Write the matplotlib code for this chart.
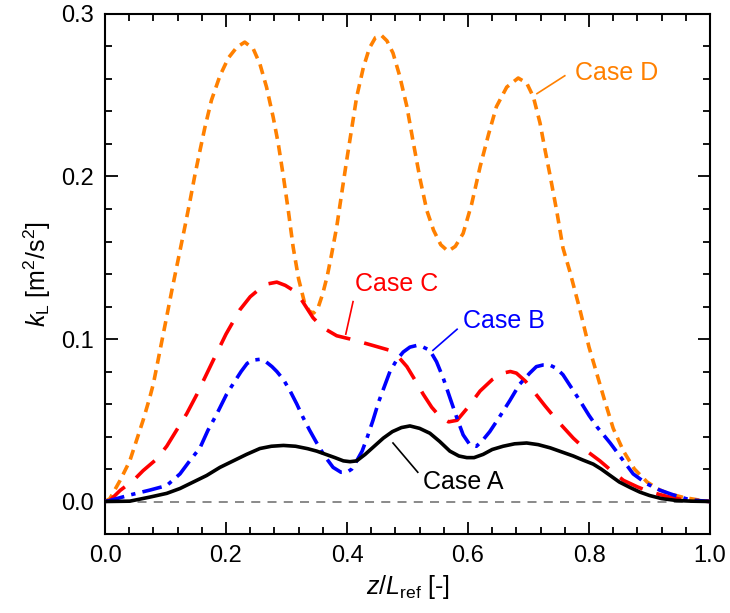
import numpy as np
import matplotlib
matplotlib.use("Agg")
import matplotlib.pyplot as plt
from matplotlib.ticker import MultipleLocator, FormatStrFormatter

plt.rcParams['font.family'] = ['Liberation Sans', 'DejaVu Sans']
plt.rcParams['mathtext.fontset'] = 'custom'
plt.rcParams['mathtext.rm'] = 'Liberation Sans'
plt.rcParams['mathtext.it'] = 'Liberation Sans:italic'
plt.rcParams['mathtext.bf'] = 'Liberation Sans:bold'

# Case D
D_x = [0.0, 0.008, 0.025, 0.041, 0.052, 0.063, 0.074, 0.08, 0.1, 0.11, 0.121, 0.132, 0.1405,
       0.149, 0.157, 0.165, 0.176, 0.19, 0.204, 0.218, 0.231, 0.245, 0.256, 0.267, 0.278, 0.2865,
       0.295, 0.303, 0.311, 0.32, 0.33, 0.338, 0.345, 0.352, 0.36, 0.3675, 0.3747, 0.383, 0.391,
       0.3994, 0.408, 0.416, 0.427, 0.437, 0.447, 0.457, 0.466, 0.476, 0.487, 0.499, 0.510, 0.521,
       0.532, 0.543, 0.555, 0.567, 0.579, 0.592, 0.606, 0.620, 0.634, 0.647, 0.664, 0.683, 0.697,
       0.708, 0.719, 0.727, 0.736, 0.747, 0.757, 0.768, 0.785, 0.80, 0.815, 0.826, 0.84, 0.857,
       0.875, 0.896, 0.915, 0.93, 0.956, 0.98, 1.0]
D_y = [0.0, 0.0017, 0.013, 0.025, 0.0375, 0.05, 0.064, 0.0725, 0.11, 0.129, 0.149, 0.169, 0.185,
       0.2017, 0.216, 0.230, 0.247, 0.262, 0.273, 0.2796, 0.2827, 0.2786, 0.2693, 0.255, 0.2365,
       0.220, 0.1996, 0.179, 0.1565, 0.137, 0.122, 0.117, 0.116, 0.119, 0.128, 0.139, 0.1524, 0.169,
       0.189, 0.2098, 0.230, 0.249, 0.267, 0.279, 0.2855, 0.2868, 0.2835, 0.276, 0.262, 0.243,
       0.220, 0.198, 0.179, 0.167, 0.158, 0.154, 0.157, 0.165, 0.183, 0.206, 0.226, 0.243, 0.255,
       0.2606, 0.2575, 0.249, 0.233, 0.217, 0.2, 0.178, 0.156, 0.142, 0.118, 0.095, 0.076, 0.062,
       0.045, 0.031, 0.02, 0.012, 0.0075, 0.005, 0.0025, 0.001, 0.0]

# Case C
C_x = [0.0, 0.008, 0.025, 0.047, 0.063, 0.085, 0.102, 0.118, 0.135, 0.152, 0.157, 0.179, 0.2,
       0.223, 0.24, 0.256, 0.27, 0.284, 0.298, 0.311, 0.325, 0.344, 0.36, 0.383, 0.405, 0.443,
       0.471, 0.485, 0.499, 0.512, 0.526, 0.54, 0.554, 0.568, 0.582, 0.60, 0.62, 0.64, 0.658,
       0.67, 0.68, 0.695, 0.708, 0.727, 0.747, 0.774, 0.80, 0.818, 0.84, 0.857, 0.88, 0.9, 0.93,
       0.956, 1.0]
C_y = [0.0, 0.0006, 0.0068, 0.013, 0.019, 0.026, 0.034, 0.0437, 0.054, 0.066, 0.070, 0.087, 0.103,
       0.118, 0.126, 0.131, 0.134, 0.135, 0.133, 0.130, 0.124, 0.113, 0.107, 0.102, 0.100, 0.096,
       0.093, 0.089, 0.083, 0.075, 0.066, 0.058, 0.052, 0.049, 0.050, 0.058, 0.068, 0.075, 0.079,
       0.080, 0.079, 0.074, 0.068, 0.059, 0.050, 0.039, 0.030, 0.025, 0.018, 0.013, 0.009, 0.006,
       0.003, 0.001, 0.0]

# Case B
B_x = [0.0, 0.008, 0.041, 0.074, 0.102, 0.124, 0.14, 0.157, 0.170, 0.185, 0.201, 0.212, 0.225,
       0.235, 0.245, 0.256, 0.266, 0.276, 0.284, 0.295, 0.306, 0.317, 0.327, 0.338, 0.35, 0.363,
       0.377, 0.39, 0.4, 0.408, 0.416, 0.425, 0.433, 0.443, 0.452, 0.462, 0.471, 0.482, 0.493,
       0.504, 0.515, 0.526, 0.537, 0.548, 0.559, 0.57, 0.582, 0.592, 0.603, 0.614, 0.625, 0.636,
       0.652, 0.669, 0.685, 0.702, 0.713, 0.724, 0.735, 0.746, 0.757, 0.771, 0.785, 0.80, 0.813,
       0.835, 0.855, 0.873, 0.895, 0.917, 0.94, 0.967, 1.0]
B_y = [0.0, 0.0006, 0.004, 0.007, 0.0098, 0.017, 0.025, 0.033, 0.0437, 0.054, 0.066, 0.0725,
       0.080, 0.085, 0.087, 0.0875, 0.086, 0.083, 0.080, 0.075, 0.068, 0.060, 0.052, 0.044, 0.036,
       0.028, 0.021, 0.018, 0.018, 0.020, 0.025, 0.031, 0.039, 0.05, 0.061, 0.071, 0.080, 0.087,
       0.092, 0.095, 0.096, 0.095, 0.093, 0.086, 0.076, 0.064, 0.051, 0.041, 0.035, 0.034, 0.038,
       0.043, 0.052, 0.062, 0.072, 0.079, 0.083, 0.084, 0.084, 0.082, 0.078, 0.070, 0.062, 0.053,
       0.046, 0.036, 0.026, 0.017, 0.011, 0.007, 0.004, 0.001, 0.0]

# Case A
A_x = [0.0, 0.041, 0.074, 0.102, 0.124, 0.146, 0.168, 0.19, 0.212, 0.234, 0.256, 0.275, 0.295,
       0.315, 0.335, 0.35, 0.365, 0.38, 0.394, 0.405, 0.416, 0.43, 0.445, 0.46, 0.475, 0.49,
       0.504, 0.52, 0.537, 0.553, 0.57, 0.585, 0.598, 0.61, 0.625, 0.64, 0.658, 0.677, 0.697,
       0.716, 0.736, 0.755, 0.774, 0.79, 0.807, 0.82, 0.835, 0.85, 0.868, 0.884, 0.9, 0.92, 0.945,
       0.97, 1.0]
A_y = [0.0, 0.0002, 0.0027, 0.005, 0.008, 0.012, 0.016, 0.021, 0.025, 0.029, 0.0326, 0.034,
       0.0345, 0.034, 0.0325, 0.031, 0.029, 0.027, 0.025, 0.0245, 0.025, 0.029, 0.034, 0.039,
       0.043, 0.0455, 0.0465, 0.045, 0.042, 0.037, 0.031, 0.028, 0.027, 0.027, 0.029, 0.032,
       0.034, 0.0355, 0.036, 0.035, 0.033, 0.0305, 0.028, 0.0255, 0.023, 0.02, 0.016, 0.012,
       0.0086, 0.0058, 0.0037, 0.0018, 0.0006, 0.0002, 0.0]

fig = plt.figure(figsize=(7.3, 6.13), dpi=100)
ax = fig.add_axes([105/730, 1-534/613, 605/730, 520/613])

lw = 2.6
ax.axhline(0, color='#808080', lw=1.3, ls=(0, (5, 4)), zorder=1)
ax.plot(D_x, D_y, color='#FF8000', lw=lw, ls=(0, (2.8, 1.8)), zorder=2)
ax.plot(C_x, C_y, color='#FF0000', lw=lw, ls=(0, (7, 4)), zorder=3)
ax.plot(B_x, B_y, color='#0000FF', lw=lw, ls=(0, (5.5, 2, 1.2, 2)), zorder=4)
ax.plot(A_x, A_y, color='black', lw=lw, ls='-', zorder=5)

fs_ann = 18
ax.text(0.777, 0.264, 'Case D', color='#FF8000', fontsize=fs_ann, va='center', ha='left')
ax.plot([0.714, 0.76], [0.251, 0.262], color='#FF8000', lw=1.2)
ax.text(0.413, 0.134, 'Case C', color='#FF0000', fontsize=fs_ann, va='center', ha='left')
ax.plot([0.41, 0.398], [0.123, 0.103], color='#FF0000', lw=1.2)
ax.text(0.592, 0.111, 'Case B', color='#0000FF', fontsize=fs_ann, va='center', ha='left')
ax.plot([0.582, 0.542], [0.106, 0.093], color='#0000FF', lw=1.2)
ax.text(0.526, 0.0117, 'Case A', color='black', fontsize=fs_ann, va='center', ha='left')
ax.plot([0.476, 0.517], [0.036, 0.018], color='black', lw=1.2)

ax.set_xlim(0, 1)
ax.set_ylim(-0.02, 0.3)
ax.xaxis.set_major_locator(MultipleLocator(0.2))
ax.xaxis.set_minor_locator(MultipleLocator(0.04))
ax.yaxis.set_major_locator(MultipleLocator(0.1))
ax.yaxis.set_minor_locator(MultipleLocator(0.02))
ax.xaxis.set_major_formatter(FormatStrFormatter('%.1f'))
ax.yaxis.set_major_formatter(FormatStrFormatter('%.1f'))
ax.tick_params(which='both', direction='in', top=True, right=True, labelsize=17, width=1.3)
ax.tick_params(which='major', length=9, pad=8)
ax.tick_params(which='minor', length=5)
for s in ax.spines.values():
    s.set_linewidth(1.5)

ax.set_xlabel(r'$z$/$L_\mathrm{ref}$ [-]', fontsize=18, labelpad=4)
ax.set_ylabel(r'$k_\mathrm{L}$ [m$^2$/s$^2$]', fontsize=18, labelpad=6)

fig.savefig('out.png', dpi=100)
